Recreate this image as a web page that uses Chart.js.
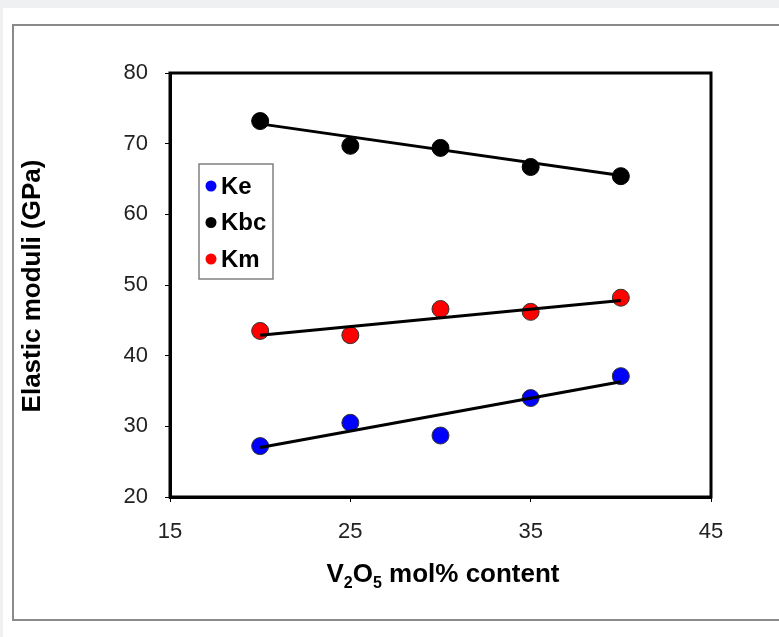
<!DOCTYPE html>
<html>
<head>
<meta charset="utf-8">
<script src="https://cdn.jsdelivr.net/npm/chart.js@4/dist/chart.umd.min.js"></script>
<style>
  html, body { margin: 0; padding: 0; }
  body { width: 779px; height: 637px; background: #eff0f2; position: relative; overflow: hidden; font-family: "Liberation Sans", Arial, sans-serif; }
  #panel { position: absolute; left: 3px; top: 8px; width: 776px; height: 629px; background: #fff; }
  #frame { position: absolute; left: 12px; top: 24px; width: 780px; height: 597px; border: 2px solid #8a8a8a; box-sizing: border-box; }
  #wrap { position: absolute; left: 0; top: 0; width: 779px; height: 637px; }
</style>
</head>
<body>
<div id="panel"></div>
<div id="frame"></div>
<div id="wrap"><canvas id="chart" width="779" height="637"></canvas></div>
<script>
// Data
const xValues = [20, 25, 30, 35, 40];
const keValues = [27.2, 30.5, 28.7, 34.0, 37.1];
const kbcValues = [73.2, 69.7, 69.4, 66.7, 65.4];
const kmValues = [43.5, 42.9, 46.6, 46.2, 48.2];

// Fitted lines (end points as drawn)
const fitX = [20, 40];
const keFit = [27.0, 36.3];
const kbcFit = [72.8, 65.5];
const kmFit = [42.9, 47.8];

const seriesNames = ['Ke', 'Kbc', 'Km'];
const seriesColors = ['#0000ff', '#000000', '#ff0000'];

const xTicks = [15, 25, 35, 45];
const yTicks = [20, 30, 40, 50, 60, 70, 80];

const FONT = '"Liberation Sans", Arial, sans-serif';

function points(xs, ys) {
    return xs.map((x, i) => ({ x: x, y: ys[i] }));
}

function fitLine(ys) {
    return {
        type: 'line',
        data: points(fitX, ys),
        borderColor: '#000',
        borderWidth: 3,
        pointRadius: 0,
        fill: false
    };
}

function markers(ys, color) {
    return {
        type: 'scatter',
        data: points(xValues, ys),
        backgroundColor: color,
        borderColor: color === '#000000' ? '#000' : '#333',
        borderWidth: 1,
        pointRadius: 8.5,
        pointHoverRadius: 8.5
    };
}

// frame, titles and legend drawn on top
const decorations = {
    id: 'decorations',
    afterDraw(chart) {
        const ctx = chart.ctx;
        const a = chart.chartArea;
        ctx.save();

        // plot frame
        ctx.strokeStyle = '#000';
        ctx.lineWidth = 3;
        ctx.strokeRect(a.left, a.top, a.right - a.left, a.bottom - a.top);

        // y title
        ctx.fillStyle = '#000';
        ctx.font = 'bold 26px ' + FONT;
        ctx.textAlign = 'center';
        ctx.textBaseline = 'middle';
        ctx.translate(33, 286);
        ctx.rotate(-Math.PI / 2);
        ctx.fillText('Elastic moduli (GPa)', 0, 0);
        ctx.setTransform(1, 0, 0, 1, 0, 0);

        // x title with subscripts
        const parts = [['V', 0], ['2', 1], ['O', 0], ['5', 1], [' mol% content', 0]];
        const big = 'bold 26px ' + FONT;
        const small = 'bold 16px ' + FONT;
        let total = 0;
        parts.forEach(p => { ctx.font = p[1] ? small : big; total += ctx.measureText(p[0]).width; });
        let x = 443 - total / 2;
        const base = 582;
        ctx.textAlign = 'left';
        ctx.textBaseline = 'alphabetic';
        parts.forEach(p => {
            ctx.font = p[1] ? small : big;
            ctx.fillText(p[0], x, p[1] ? base + 6 : base);
            x += ctx.measureText(p[0]).width;
        });

        // legend box
        ctx.strokeStyle = '#808080';
        ctx.lineWidth = 1.5;
        ctx.fillStyle = '#fff';
        ctx.fillRect(199, 164, 74, 115);
        ctx.strokeRect(199, 164, 74, 115);
        ctx.font = 'bold 24px ' + FONT;
        ctx.textBaseline = 'middle';
        seriesNames.forEach((name, i) => {
            const cy = 186 + i * 36.5;
            ctx.beginPath();
            ctx.arc(211, cy, 5.5, 0, Math.PI * 2);
            ctx.fillStyle = seriesColors[i];
            ctx.fill();
            ctx.fillStyle = '#000';
            ctx.fillText(name, 221, cy + 1);
        });
        ctx.restore();
    }
};

const ctx = document.getElementById('chart').getContext('2d');
new Chart(ctx, {
    data: {
        datasets: [
            fitLine(keFit),
            fitLine(kbcFit),
            fitLine(kmFit),
            markers(keValues, seriesColors[0]),
            markers(kbcValues, seriesColors[1]),
            markers(kmValues, seriesColors[2])
        ]
    },
    options: {
        responsive: false,
        animation: false,
        events: [],
        layout: { padding: { left: 0, top: 73, right: 68, bottom: 0 } },
        plugins: { legend: { display: false }, tooltip: { enabled: false } },
        scales: {
            x: {
                type: 'linear',
                min: 15,
                max: 45,
                afterFit: s => { s.height = 140; },
                afterBuildTicks: s => { s.ticks = xTicks.map(v => ({ value: v })); },
                grid: { drawOnChartArea: false, tickLength: 5, color: '#000', lineWidth: 1 },
                border: { color: '#000', width: 3 },
                ticks: { color: '#222', font: { family: FONT, size: 22 }, padding: 17, maxRotation: 0 }
            },
            y: {
                type: 'linear',
                min: 20,
                max: 80,
                afterFit: s => { s.width = 170; },
                afterBuildTicks: s => { s.ticks = yTicks.map(v => ({ value: v })); },
                grid: { drawOnChartArea: false, tickLength: 5, color: '#000', lineWidth: 1 },
                border: { color: '#000', width: 3 },
                ticks: { color: '#222', font: { family: FONT, size: 22 }, padding: 17 }
            }
        }
    },
    plugins: [decorations]
});
</script>
</body>
</html>
